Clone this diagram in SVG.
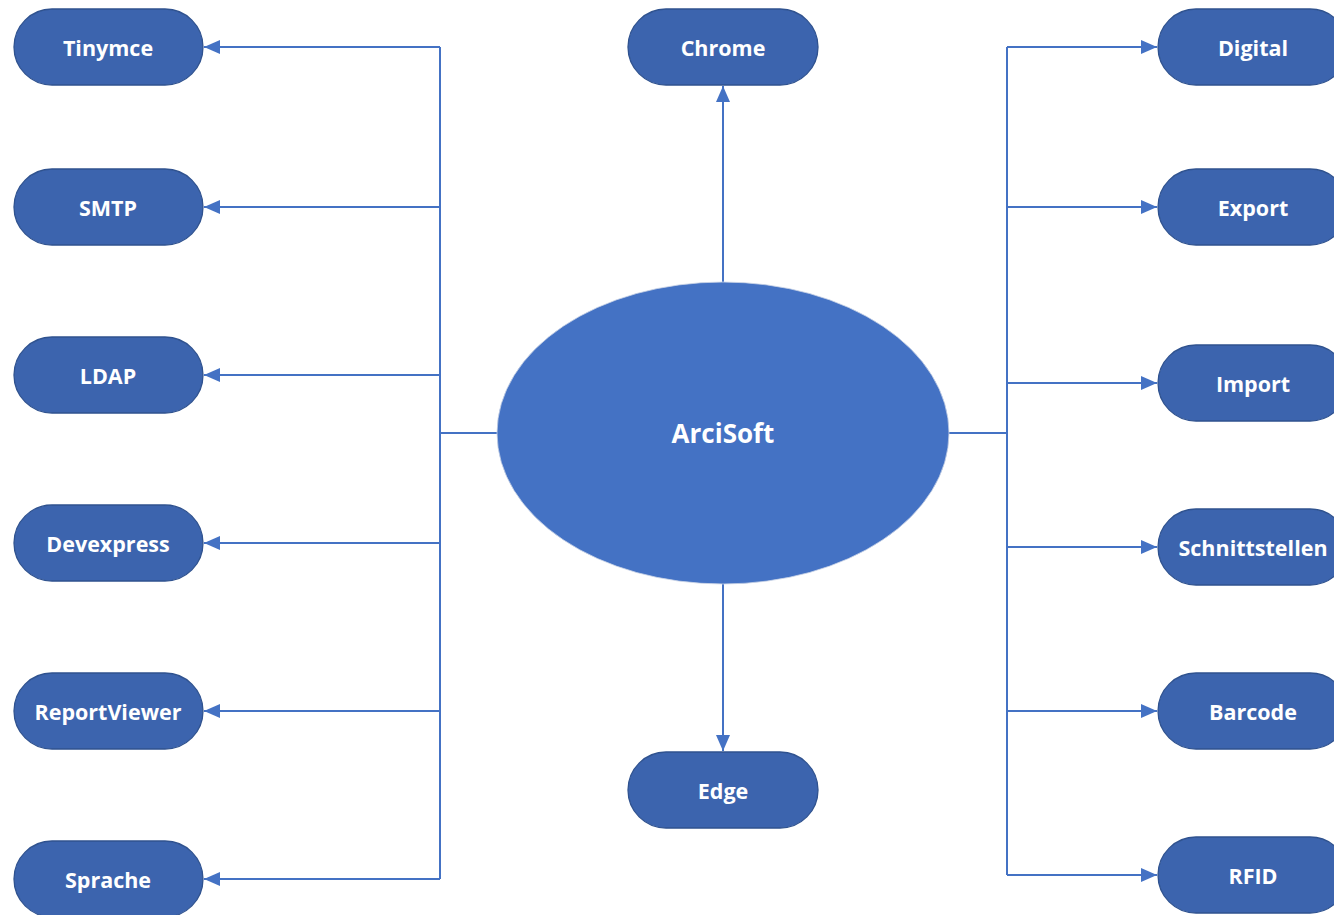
<svg xmlns="http://www.w3.org/2000/svg" width="1334" height="915" viewBox="0 0 1334 915">
<style>
.n{fill:#3C64AE;stroke:#2F528F;stroke-width:1.3}
.t{fill:#fff;font-family:"Open Sans","Liberation Sans",sans-serif;font-weight:bold;font-size:21.5px;text-anchor:middle;dominant-baseline:central}
.c{fill:none;stroke:#4472C4;stroke-width:2}
</style>
<defs>
<marker id="a" viewBox="0 0 16 14" refX="16" refY="7" markerWidth="16" markerHeight="14" markerUnits="userSpaceOnUse" orient="auto">
<path d="M0,0L16,7L0,14z" fill="#4472C4"/>
</marker>
</defs>
<rect width="1334" height="915" fill="#fff"/>
<g id="connectors">
<path class="c" d="M497,433H440M440,47V879"/>
<path class="c" d="M440,47H204" marker-end="url(#a)"/>
<path class="c" d="M440,207H204" marker-end="url(#a)"/>
<path class="c" d="M440,375H204" marker-end="url(#a)"/>
<path class="c" d="M440,543H204" marker-end="url(#a)"/>
<path class="c" d="M440,711H204" marker-end="url(#a)"/>
<path class="c" d="M440,879H204" marker-end="url(#a)"/>
<path class="c" d="M949,433H1007M1007,47V875"/>
<path class="c" d="M1007,47H1157" marker-end="url(#a)"/>
<path class="c" d="M1007,207H1157" marker-end="url(#a)"/>
<path class="c" d="M1007,383H1157" marker-end="url(#a)"/>
<path class="c" d="M1007,547H1157" marker-end="url(#a)"/>
<path class="c" d="M1007,711H1157" marker-end="url(#a)"/>
<path class="c" d="M1007,875H1157" marker-end="url(#a)"/>
<path class="c" d="M723,282V86" marker-end="url(#a)"/>
<path class="c" d="M723,584V751" marker-end="url(#a)"/>
</g>
<g id="arcisoft"><ellipse cx="723" cy="433" rx="226" ry="151" fill="#4472C4" stroke="#c9d3e6" stroke-width="0.8"/><text class="t" x="723" y="433" style="font-size:26px">ArciSoft</text></g>
<g id="chrome"><rect class="n" x="628" y="9" width="190" height="76" rx="38"/><text class="t" x="723" y="47">Chrome</text></g>
<g id="edge"><rect class="n" x="628" y="752" width="190" height="76" rx="38"/><text class="t" x="723" y="790">Edge</text></g>
<g id="tinymce"><rect class="n" x="14" y="9" width="189" height="76" rx="38"/><text class="t" x="108" y="47">Tinymce</text></g>
<g id="smtp"><rect class="n" x="14" y="169" width="189" height="76" rx="38"/><text class="t" x="108" y="207">SMTP</text></g>
<g id="ldap"><rect class="n" x="14" y="337" width="189" height="76" rx="38"/><text class="t" x="108" y="375">LDAP</text></g>
<g id="devexpress"><rect class="n" x="14" y="505" width="189" height="76" rx="38"/><text class="t" x="108" y="543">Devexpress</text></g>
<g id="reportviewer"><rect class="n" x="14" y="673" width="189" height="76" rx="38"/><text class="t" x="108" y="711">ReportViewer</text></g>
<g id="sprache"><rect class="n" x="14" y="841" width="189" height="76" rx="38"/><text class="t" x="108" y="879">Sprache</text></g>
<g id="digital"><rect class="n" x="1158" y="9" width="190" height="76" rx="38"/><text class="t" x="1253" y="47">Digital</text></g>
<g id="export"><rect class="n" x="1158" y="169" width="190" height="76" rx="38"/><text class="t" x="1253" y="207">Export</text></g>
<g id="import"><rect class="n" x="1158" y="345" width="190" height="76" rx="38"/><text class="t" x="1253" y="383">Import</text></g>
<g id="schnittstellen"><rect class="n" x="1158" y="509" width="190" height="76" rx="38"/><text class="t" x="1253" y="547">Schnittstellen</text></g>
<g id="barcode"><rect class="n" x="1158" y="673" width="190" height="76" rx="38"/><text class="t" x="1253" y="711">Barcode</text></g>
<g id="rfid"><rect class="n" x="1158" y="837" width="190" height="76" rx="38"/><text class="t" x="1253" y="875">RFID</text></g>
</svg>
